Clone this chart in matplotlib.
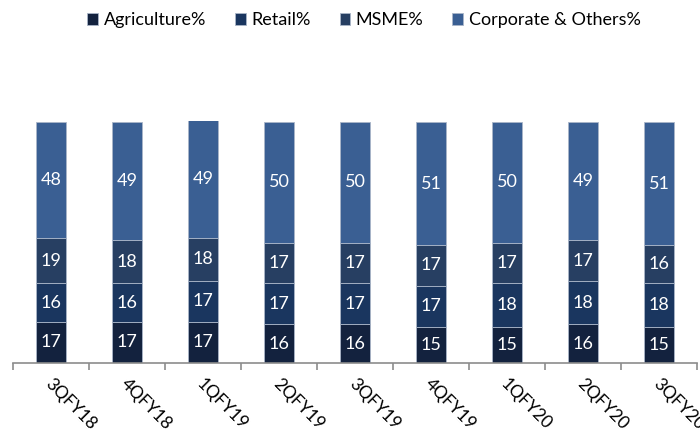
import numpy as np
import matplotlib.pyplot as plt

quarters = ["3QFY18", "4QFY18", "1QFY19", "2QFY19", "3QFY19", "4QFY19", "1QFY20", "2QFY20", "3QFY20"]
agriculture = [17, 17, 17, 16, 16, 15, 15, 16, 15]
retail = [16, 16, 17, 17, 17, 17, 18, 18, 18]
msme = [19, 18, 18, 17, 17, 17, 17, 17, 16]
corporate = [48, 49, 49, 50, 50, 51, 50, 49, 51]

series = [
    ("Agriculture%", agriculture, "#13223e"),
    ("Retail%", retail, "#1a365f"),
    ("MSME%", msme, "#273f62"),
    ("Corporate & Others%", corporate, "#3a5f93"),
]

plt.rcParams["font.family"] = ["Lato", "DejaVu Sans"]

fig = plt.figure(figsize=(7, 4.34), dpi=100)
ax = fig.add_axes([0.0186, 0.164, 0.977, 0.557])

x = np.arange(len(quarters))
bottom = np.zeros(len(quarters))
for name, vals, color in series:
    vals = np.array(vals)
    ax.bar(x, vals, 0.4, bottom=bottom, color=color, label=name,
           edgecolor="#aab6c8", linewidth=0.6)
    for xi, b, v in zip(x, bottom, vals):
        ax.text(xi, b + v / 2, str(v), ha="center", va="center",
                color="white", fontsize=13)
    bottom += vals

ax.set_xlim(-0.5, len(quarters) - 0.5)
ax.set_ylim(0, 100.5)
for s in ["top", "right", "left"]:
    ax.spines[s].set_visible(False)
ax.spines["bottom"].set_color("#8c8c8c")
ax.spines["bottom"].set_linewidth(1.2)
ax.set_yticks([])

# ticks sit between categories, labels at category centres
ax.set_xticks(np.arange(len(quarters) + 1) - 0.5)
ax.set_xticklabels([])
ax.tick_params(axis="x", length=5, width=1.2, color="#8c8c8c", direction="out")
for xi, q in zip(x, quarters):
    ax.text(xi + 0.03, -5.5, q, rotation=-45, ha="left", va="top",
            rotation_mode="anchor", fontsize=12.5, color="black",
            clip_on=False)

ax.legend(loc="center", bbox_to_anchor=(0.52, 0.953), bbox_transform=fig.transFigure,
          ncol=4, frameon=False, fontsize=13, handlelength=0.6, handleheight=0.6,
          handletextpad=0.3, columnspacing=1.6)

plt.savefig("out.png", dpi=100)
